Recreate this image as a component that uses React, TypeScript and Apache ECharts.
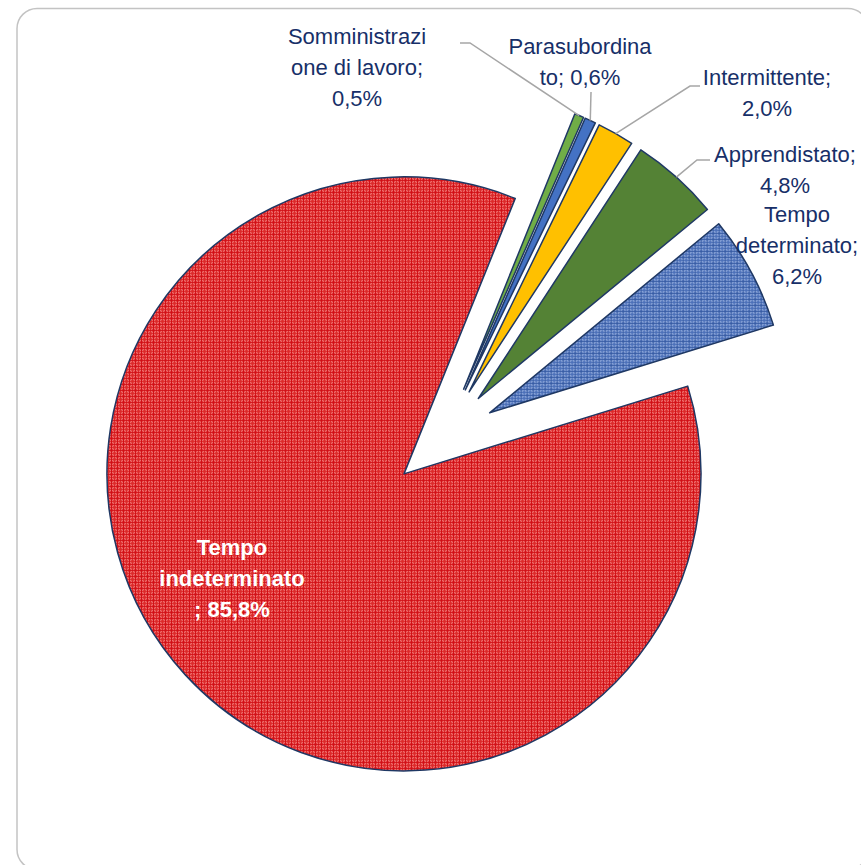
import React, { useEffect, useRef } from 'react';
import * as echarts from 'echarts';

// ---- data ----
const categories = [
  'Somministrazione di lavoro',
  'Parasubordinato',
  'Intermittente',
  'Apprendistato',
  'Tempo determinato',
  'Tempo indeterminato',
];
const values = [0.5, 0.6, 2.0, 4.8, 6.2, 85.8];
const labelTexts = [
  'Somministrazi\none di lavoro;\n0,5%',
  'Parasubordina\nto; 0,6%',
  'Intermittente;\n2,0%',
  'Apprendistato;\n4,8%',
  'Tempo\ndeterminato;\n6,2%',
  'Tempo\nindeterminato\n; 85,8%',
];

// ---- layout / style ----
const CENTER = [443, 438];
const RADIUS = 297;
const EXPLODE = 53;
const labelPos = [
  [357, 67],
  [580, 62],
  [767, 93],
  [785, 170],
  [797, 245],
  [232, 578],
];
// leader line: bend point and end point next to the label (null = none)
const leaderBend: (number[] | null)[] = [[470, 43], null, [690, 86], [697, 160], null, null];
const leaderEnd: (number[] | null)[] = [[460, 43], [591, 92], [700, 86], [710, 160], null, null];
const NAVY = '#172f68';
const FONT = '"Liberation Sans", Arial, sans-serif';

function makePattern(line: string, mid: string, a: string, b: string) {
  const c = document.createElement('canvas');
  c.width = 6;
  c.height = 6;
  const ctx = c.getContext('2d')!;
  for (let y = 0; y < 6; y++) {
    for (let x = 0; x < 6; x++) {
      let col;
      if (x === 0 || y === 0) col = line;
      else if (x === 3 || y === 3) col = mid;
      else col = (x + y) % 2 ? a : b;
      ctx.fillStyle = col;
      ctx.fillRect(x, y, 1, 1);
    }
  }
  return { image: c.toDataURL(), imageWidth: 6, imageHeight: 6, repeat: 'repeat' };
}

export default function App() {
  const ref = useRef<HTMLDivElement>(null);
  useEffect(() => {
    const chart = echarts.init(ref.current!, null, { renderer: 'svg' });
    const redPat = makePattern('#d10f16', '#dc2a2a', '#ef7474', '#e44242');
    const bluePat = makePattern('#355aa3', '#4a6fb8', '#9ab1de', '#6a8aca');
    const fills: any[] = ['#70ad47', '#4472c4', '#ffc000', '#548235', bluePat, redPat];

    const sliceData = values.map((v, i) => ({
      name: categories[i],
      value: v,
      selected: true,
      itemStyle: { color: fills[i] },
    }));
    const labelData = values.map((v, i) => ({
      name: categories[i],
      value: v,
      label:
        i === 5
          ? { color: '#ffffff', fontWeight: 'bold' }
          : {},
      labelLine: { show: !!leaderEnd[i] },
    }));

    const common = {
      type: 'pie',
      center: CENTER,
      radius: RADIUS,
      startAngle: 68,
      clockwise: true,
      silent: true,
      avoidLabelOverlap: false,
    };

    chart.setOption({
      animation: false,
      graphic: [
        {
          type: 'rect',
          shape: { x: 17, y: 8.5, width: 851, height: 861, r: 20 },
          style: { fill: 'none', stroke: '#c3c3c3', lineWidth: 1.5 },
          silent: true,
        },
      ],
      series: [
        {
          ...common,
          z: 2,
          selectedMode: 'multiple',
          selectedOffset: EXPLODE,
          itemStyle: { borderColor: '#1f3864', borderWidth: 1.5 },
          select: { itemStyle: { borderColor: '#1f3864', borderWidth: 1.5 } },
          label: { show: false },
          labelLine: { show: false },
          data: sliceData,
        },
        {
          ...common,
          z: 6,
          selectedMode: false,
          itemStyle: { color: 'rgba(0,0,0,0)', borderWidth: 0 },
          label: {
            show: true,
            position: 'outside',
            formatter: (p: any) => labelTexts[p.dataIndex],
            fontFamily: FONT,
            fontSize: 22,
            lineHeight: 31,
            color: NAVY,
            align: 'center',
          },
          labelLine: {
            show: true,
            length: 10,
            length2: 10,
            lineStyle: { color: '#a6a6a6', width: 1.5 },
          },
          labelLayout: (p: any) => {
            const i = p.dataIndex;
            const out: any = {
              x: labelPos[i][0],
              y: labelPos[i][1],
              align: 'center',
              verticalAlign: 'middle',
            };
            const end = leaderEnd[i];
            if (end && p.labelLinePoints) {
              const p0 = p.labelLinePoints[0];
              const k = EXPLODE / RADIUS;
              const start = [p0[0] + (p0[0] - CENTER[0]) * k, p0[1] + (p0[1] - CENTER[1]) * k];
              const bend = leaderBend[i];
              out.labelLinePoints = bend ? [start, bend, end] : [start, end];
            }
            return out;
          },
          data: labelData,
        },
      ],
    });
    return () => chart.dispose();
  }, []);
  return (
    <div
      ref={ref}
      style={{ position: 'fixed', left: 0, top: 0, width: 861, height: 865, background: '#fff' }}
    />
  );
}
